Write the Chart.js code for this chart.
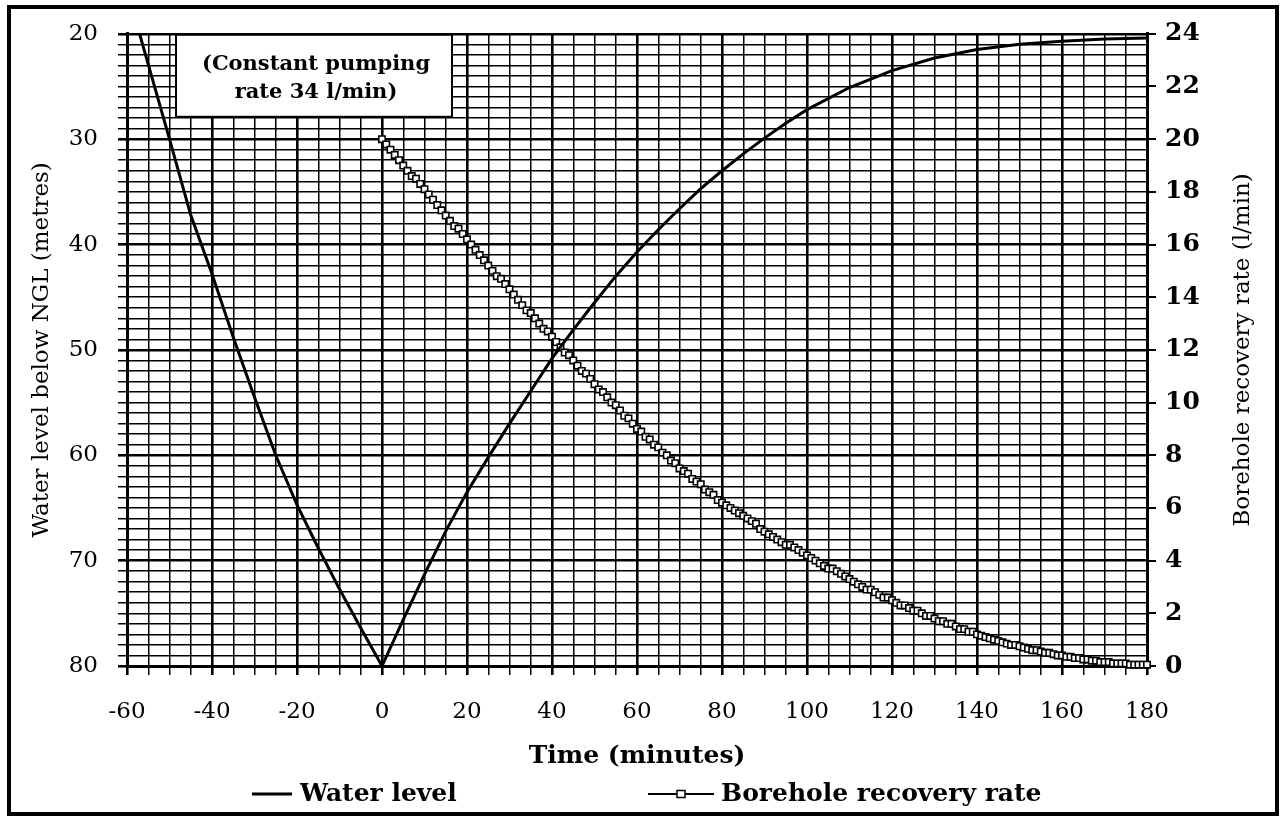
<!DOCTYPE html>
<html>
<head>
<meta charset="utf-8">
<script src="https://cdn.jsdelivr.net/npm/chart.js@4.4.1/dist/chart.umd.min.js"></script>
<style>
  html, body { margin: 0; padding: 0; background: #fff; }
</style>
</head>
<body>
<canvas id="lineChart" width="1280" height="817"></canvas>
<script>
// water level below ground, pumping (t < 0) then recovery (t > 0)
var levelMinutes = [-60, -55, -50, -45, -40, -35, -30, -25, -20, -15, -10, -5, 0,
  5, 10, 15, 20, 25, 30, 35, 40, 45, 50, 55, 60, 65, 70, 75, 80, 85, 90, 95, 100,
  110, 120, 130, 140, 150, 160, 170, 180];
var levelMetres = [15.8, 22.9, 30.0, 37.2, 42.8, 48.8, 54.5, 60.0, 64.7, 68.8, 72.7, 76.4, 80.0,
  75.6, 71.3, 67.2, 63.5, 60.2, 57.0, 53.9, 50.8, 48.1, 45.5, 43.0, 40.7, 38.6, 36.6, 34.7, 33.0, 31.4, 29.9, 28.5, 27.2,
  25.1, 23.5, 22.3, 21.5, 21.0, 20.7, 20.5, 20.4];

// recovery rate (l/min), one reading a minute from t = 0
var rateStart = 0;
var rateValues = [
  20.0, 19.8, 19.6, 19.4, 19.2, 19.0, 18.8, 18.6, 18.5, 18.3,
  18.1, 17.9, 17.7, 17.5, 17.3, 17.1, 16.9, 16.7, 16.6, 16.4,
  16.2, 16.0, 15.8, 15.6, 15.4, 15.2, 15.0, 14.8, 14.7, 14.5,
  14.3, 14.1, 13.9, 13.7, 13.5, 13.4, 13.2, 13.0, 12.8, 12.7,
  12.5, 12.3, 12.1, 11.9, 11.8, 11.6, 11.4, 11.2, 11.1, 10.9,
  10.7, 10.5, 10.4, 10.2, 10.0, 9.9, 9.7, 9.5, 9.4, 9.2,
  9.0, 8.9, 8.7, 8.6, 8.4, 8.3, 8.1, 8.0, 7.8, 7.7,
  7.5, 7.4, 7.3, 7.1, 7.0, 6.9, 6.7, 6.6, 6.5, 6.3,
  6.2, 6.1, 6.0, 5.9, 5.8, 5.7, 5.6, 5.5, 5.4, 5.2,
  5.1, 5.0, 4.9, 4.8, 4.7, 4.6, 4.6, 4.5, 4.4, 4.3,
  4.2, 4.1, 4.0, 3.9, 3.8, 3.7, 3.7, 3.6, 3.5, 3.4,
  3.3, 3.2, 3.1, 3.0, 2.9, 2.9, 2.8, 2.7, 2.6, 2.6,
  2.5, 2.4, 2.3, 2.3, 2.2, 2.1, 2.1, 2.0, 1.9, 1.9,
  1.8, 1.7, 1.7, 1.6, 1.6, 1.5, 1.4, 1.4, 1.3, 1.3,
  1.2, 1.15, 1.1, 1.05, 1.0, 0.95, 0.9, 0.85, 0.8, 0.8,
  0.75, 0.7, 0.65, 0.6, 0.6, 0.55, 0.5, 0.5, 0.45, 0.4,
  0.4, 0.35, 0.35, 0.3, 0.3, 0.25, 0.25, 0.2, 0.2, 0.15,
  0.15, 0.15, 0.1, 0.1, 0.1, 0.1, 0.05, 0.05, 0.05, 0.05,
  0.05
];

// axis ranges and label spacing
var timeRange = [-60, 180];   // labelled every 20, gridded every 5
var levelRange = [20, 80];    // labelled every 10, gridded every 1
var rateRange = [0, 24];      // labelled every 2
var noteLines = ['(Constant pumping', 'rate 34 l/min)'];

var serif = 'DejaVu Serif';

function majorWidth(step) {
  return function (ctx) {
    return ctx.tick && ctx.tick.value % step === 0 ? 2.6 : 1.5;
  };
}

// white page, outer frame, note box, right title and legend
var decor = {
  id: 'decor',
  beforeDraw: function (chart) {
    var c = chart.ctx;
    c.save();
    c.fillStyle = '#fff';
    c.fillRect(0, 0, chart.width, chart.height);
    c.restore();
  },
  afterDatasetsDraw: function (chart) {
    var c = chart.ctx;
    var a = chart.chartArea;
    c.save();
    c.fillStyle = '#fff';
    c.fillRect(a.left + 49, a.top + 1, 276, 82);
    c.strokeStyle = '#000';
    c.lineWidth = 2;
    c.strokeRect(a.left + 49, a.top + 1, 276, 82);
    c.fillStyle = '#000';
    c.font = 'bold 21px "' + serif + '"';
    c.textAlign = 'center';
    c.textBaseline = 'middle';
    c.fillText(noteLines[0], a.left + 189, a.top + 31);
    c.fillText(noteLines[1], a.left + 189, a.top + 59);
    c.restore();
  },
  afterDraw: function (chart) {
    var c = chart.ctx;
    var a = chart.chartArea;
    c.save();
    // right axis title reads bottom to top
    c.translate(1243, (a.top + a.bottom) / 2);
    c.rotate(-Math.PI / 2);
    c.fillStyle = '#000';
    c.font = '23px "' + serif + '"';
    c.textAlign = 'center';
    c.textBaseline = 'middle';
    c.fillText(chart.options.scales.y2.title.text, 0, 0);
    c.restore();

    // legend
    var ds = chart.data.datasets;
    var ly = 794;
    c.save();
    c.strokeStyle = '#000';
    c.fillStyle = '#000';
    c.lineWidth = 3;
    c.beginPath();
    c.moveTo(252, ly);
    c.lineTo(292, ly);
    c.stroke();
    c.lineWidth = 2;
    c.beginPath();
    c.moveTo(648, ly);
    c.lineTo(714, ly);
    c.stroke();
    c.fillStyle = '#fff';
    c.fillRect(677, ly - 3.5, 8, 7);
    c.lineWidth = 1.5;
    c.strokeRect(677, ly - 3.5, 8, 7);
    c.fillStyle = '#000';
    c.font = 'bold 25px "' + serif + '"';
    c.textAlign = 'left';
    c.textBaseline = 'middle';
    c.fillText(ds[0].label, 300, ly);
    c.fillText(ds[1].label, 721, ly);
    c.restore();

    // frame round the whole chart
    c.save();
    c.strokeStyle = '#000';
    c.lineWidth = 4;
    c.strokeRect(9, 7, 1268, 807);
    c.restore();
  }
};

var ctxL = document.getElementById('lineChart').getContext('2d');
var myLineChart = new Chart(ctxL, {
  type: 'line',
  data: {
    datasets: [{
        label: 'Water level',
        data: levelMinutes.map(function (t, i) { return { x: t, y: levelMetres[i] }; }),
        yAxisID: 'y',
        borderColor: '#000',
        borderWidth: 3,
        pointRadius: 0,
        tension: 0
      },
      {
        label: 'Borehole recovery rate',
        data: rateValues.map(function (v, i) { return { x: rateStart + i, y: v }; }),
        yAxisID: 'y2',
        borderColor: '#000',
        borderWidth: 2,
        pointStyle: 'rect',
        pointRadius: 4.5,
        pointBackgroundColor: '#fff',
        pointBorderColor: '#000',
        pointBorderWidth: 1.6,
        clip: false
      }
    ]
  },
  options: {
    responsive: false,
    animation: false,
    devicePixelRatio: 1,
    layout: { padding: { top: 32, left: 0, right: 0, bottom: 0 } },
    plugins: {
      legend: { display: false },
      tooltip: { enabled: false }
    },
    scales: {
      x: {
        type: 'linear',
        position: 'bottom',
        min: timeRange[0],
        max: timeRange[1],
        afterFit: function (s) { s.height = 151; },
        ticks: {
          stepSize: 5,
          autoSkip: false,
          maxRotation: 0,
          padding: 23,
          color: '#000',
          font: { family: serif, size: 23 },
          callback: function (v) { return v % 20 === 0 ? String(v) : ''; }
        },
        grid: { color: '#000', lineWidth: majorWidth(20), tickLength: 9 },
        border: { display: true, color: '#000', width: 3 },
        title: {
          display: true,
          text: 'Time (minutes)',
          color: '#000',
          font: { family: serif, size: 25, weight: 'bold' },
          padding: { top: 0, bottom: 46 }
        }
      },
      y: {
        type: 'linear',
        position: 'left',
        reverse: true,
        min: levelRange[0],
        max: levelRange[1],
        afterFit: function (s) { s.width = 127; },
        ticks: {
          stepSize: 1,
          autoSkip: false,
          padding: 20,
          color: '#000',
          font: { family: serif, size: 23 },
          callback: function (v) { return v % 10 === 0 ? String(v) : ''; }
        },
        grid: { color: '#000', lineWidth: majorWidth(10), tickLength: 9 },
        border: { display: true, color: '#000', width: 3 },
        title: {
          display: true,
          text: 'Water level below NGL (metres)',
          color: '#000',
          font: { family: serif, size: 23 },
          padding: { top: 28, bottom: 0 }
        }
      },
      y2: {
        type: 'linear',
        position: 'right',
        min: rateRange[0],
        max: rateRange[1],
        afterFit: function (s) { s.width = 133; },
        ticks: {
          stepSize: 2,
          autoSkip: false,
          padding: 9,
          color: '#000',
          font: { family: serif, size: 25, weight: 'bold' }
        },
        grid: { drawOnChartArea: false, color: '#000', lineWidth: 2, tickLength: 9 },
        border: { display: true, color: '#000', width: 3 },
        title: { display: false, text: 'Borehole recovery rate (l/min)' }
      }
    }
  },
  plugins: [decor]
});
</script>
</body>
</html>
